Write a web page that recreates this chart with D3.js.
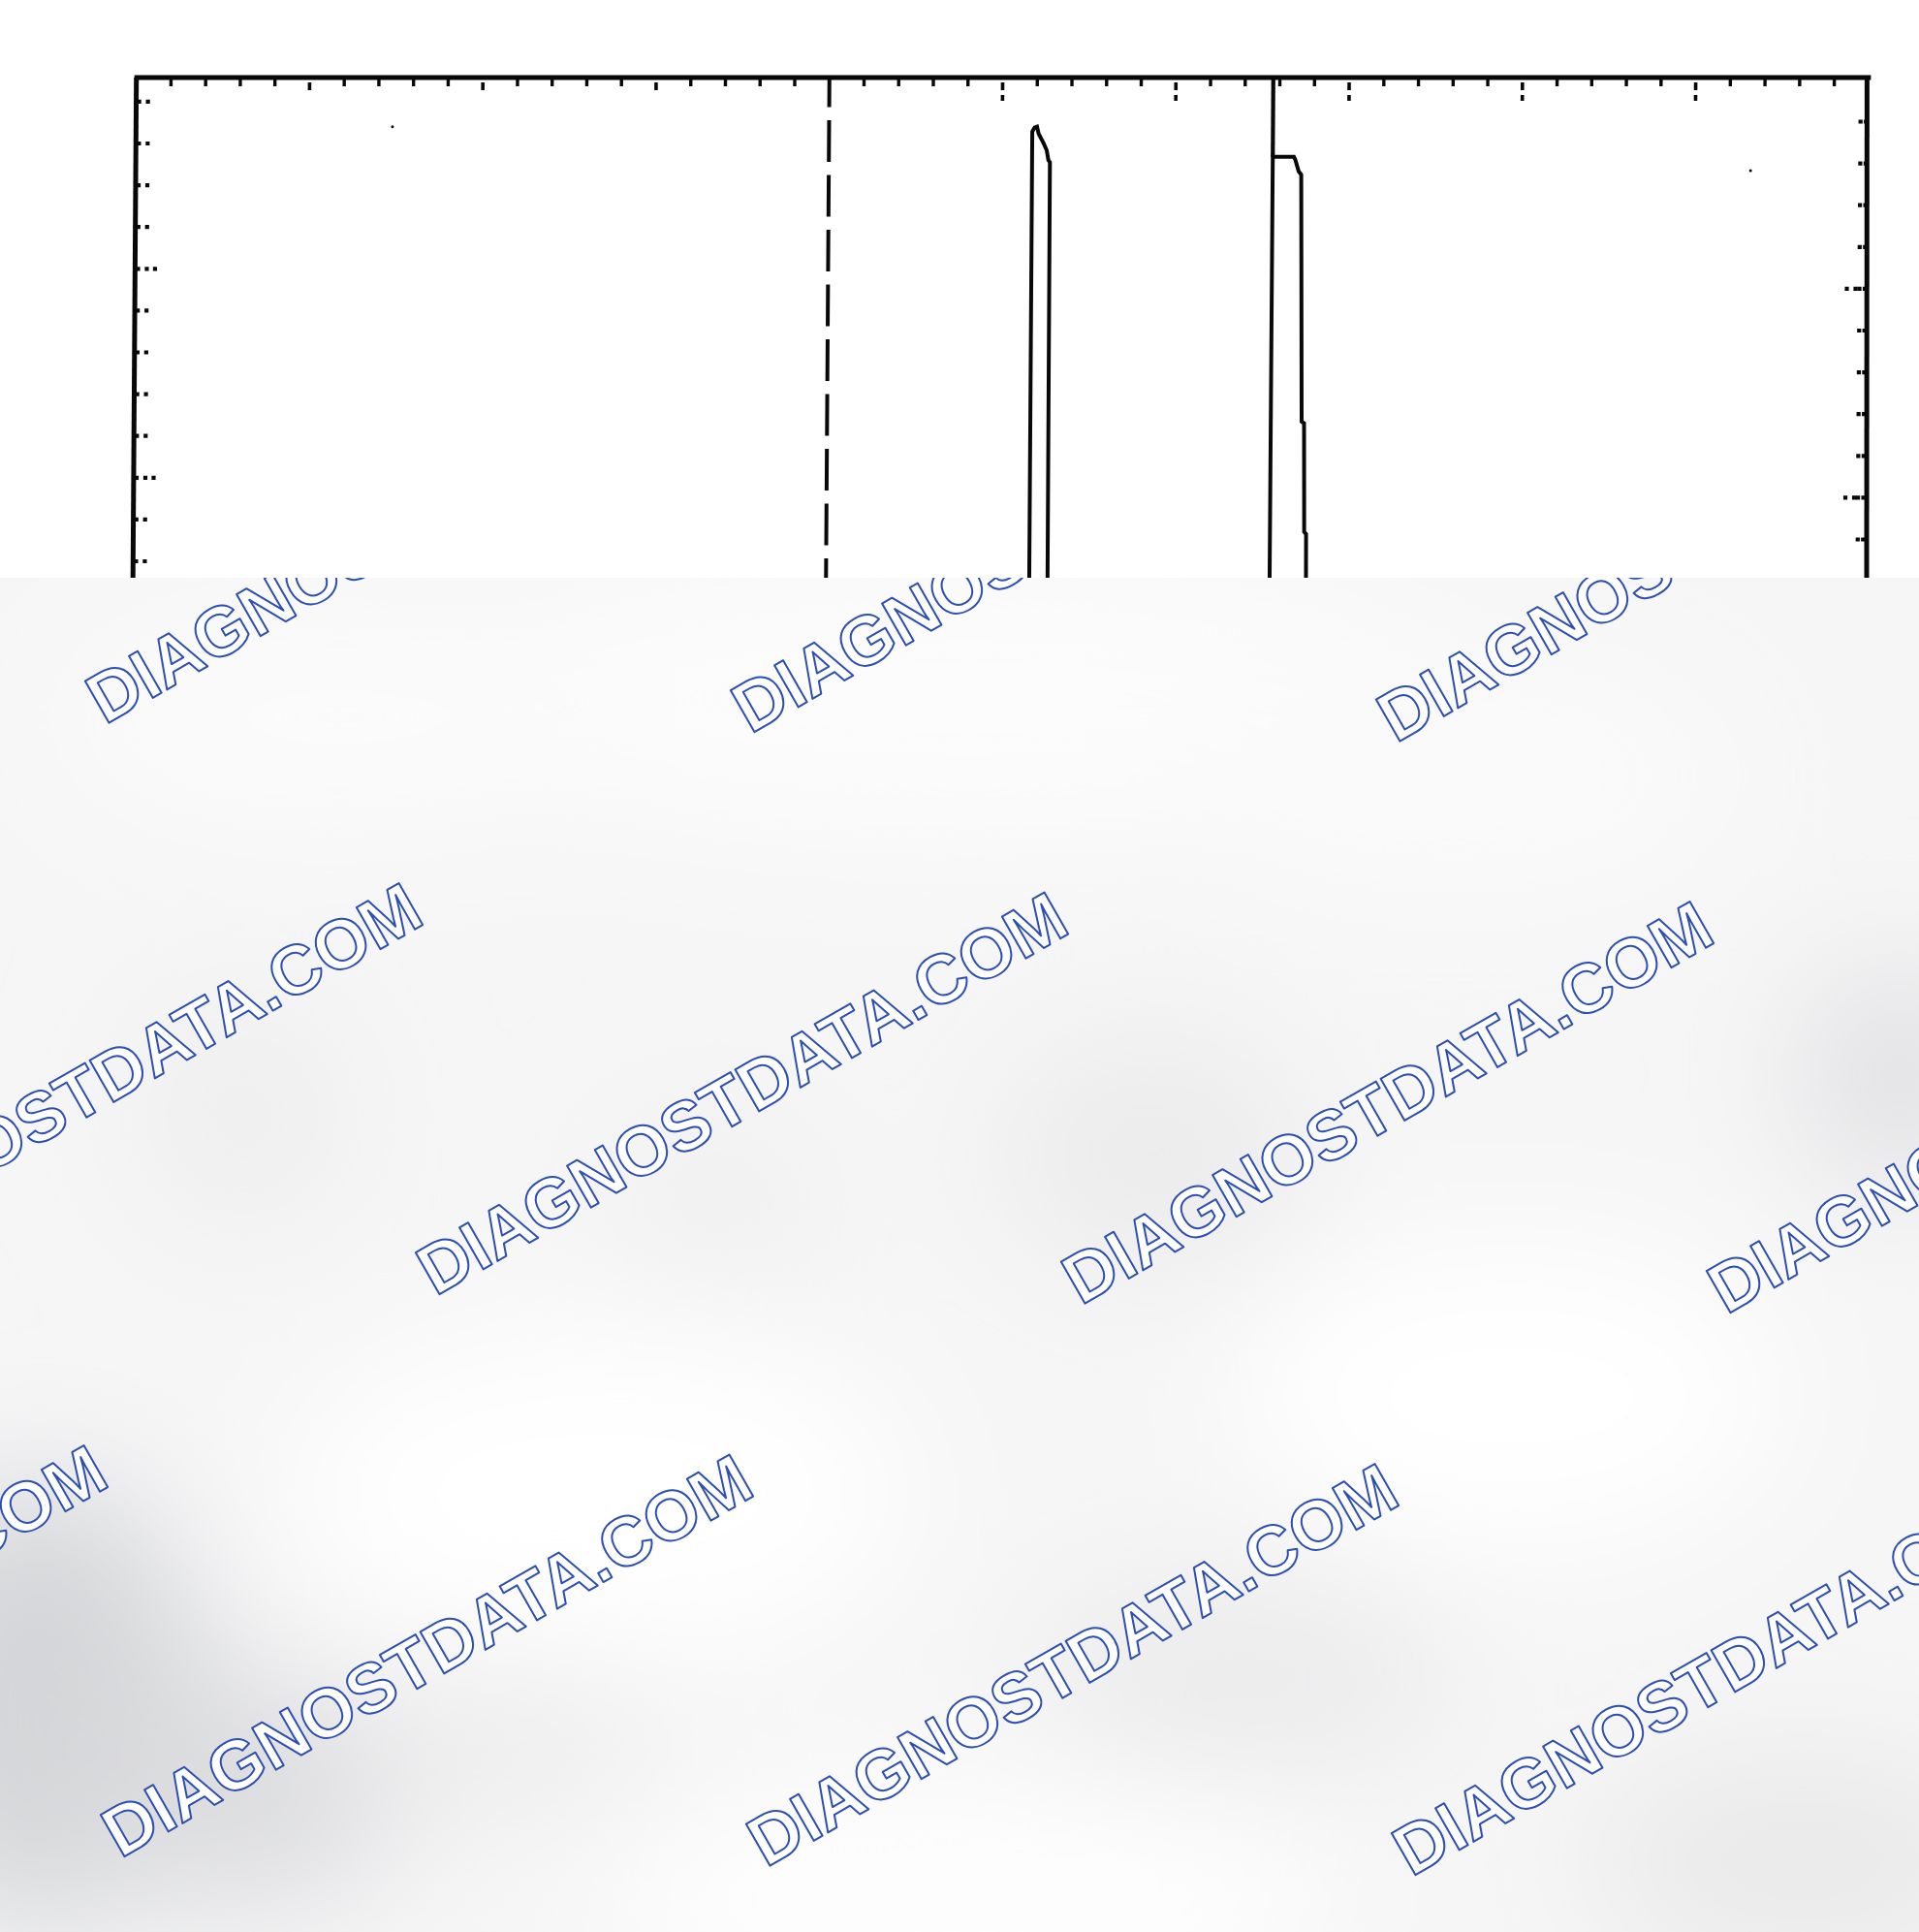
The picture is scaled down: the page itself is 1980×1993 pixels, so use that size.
<!DOCTYPE html>
<html><head><meta charset="utf-8">
<script src="https://cdn.jsdelivr.net/npm/d3@7"></script>
<style>html,body{margin:0;padding:0;background:#fff;}svg{display:block}</style>
</head><body>
<script>
// ---- data (x in horizontal divisions 0..10, y in vertical minor-tick units) ----
const frameTopK = -0.575;
const dashedMarkerX = [4.0];
const cursorX = [6.562];
const cursorTopK = 1.32;
const pulse1 = [[5.173,13],[5.173,0.72],[5.186,0.62],[5.200,0.60],[5.210,0.77],[5.239,1.00],[5.257,1.165],[5.267,1.40],[5.276,1.45],[5.279,13]];
const pulse2 = [[6.560,13],[6.562,1.32],[6.684,1.32],[6.693,1.40],[6.712,1.67],[6.727,1.75],[6.739,7.66],[6.753,7.70],[6.758,10.30],[6.769,10.35],[6.772,13]];
const topMinorTicks = d3.range(1, 50).filter(i => i % 5 !== 0).map(i => i / 5);
const topMajorTicks = [1,2,3,5,6,7,8,9];
const leftTicksK = [0,1,2,3,4,5,6,7,8,9,10,11];
const leftTripleK = [4,9];
const rightTicksK = [0.478,1.478,2.478,3.478,4.478,5.478,6.478,7.478,8.478,9.478,10.478];
const rightTripleK = [4.478,9.478];
const specks = [[1.48,0.6],[9.32,1.65]];
const watermarkText = "DIAGNOSTDATA.COM";
const wmCols = [-1,0,1,2];
const wmRows = [-1,0,1];

const W = 1980, H = 1993;
const x = d3.scaleLinear().domain([0,10]).range([140.7,1928.4]);
const y = d3.scaleLinear().domain([0,11]).range([104.8,578.9]);
const topY = y(frameTopK);

const svg = d3.select("body").append("svg").attr("width",W).attr("height",H);
svg.append("rect").attr("width",W).attr("height",H).attr("fill","#fff");

const g = svg.append("g").attr("transform",`translate(0,${topY}) skewX(-0.39) translate(0,${-topY})`);
const ink = "#080808";

// frame
g.append("line").attr("x1",x(0)-2).attr("x2",x(10)+2).attr("y1",topY).attr("y2",topY).attr("stroke",ink).attr("stroke-width",5);
g.append("line").attr("x1",x(0)).attr("x2",x(0)).attr("y1",topY).attr("y2",y(13)).attr("stroke",ink).attr("stroke-width",5);
g.append("line").attr("x1",x(10)-2).attr("x2",x(10)+1.5).attr("y1",topY).attr("y2",y(13)).attr("stroke",ink).attr("stroke-width",5);

// top ticks
g.selectAll("rect.tmin").data(topMinorTicks).join("rect").attr("class","tmin")
 .attr("x",d=>x(d)-1.7).attr("y",topY+2).attr("width",3.4).attr("height",7).attr("fill",ink);
g.selectAll("rect.tmaj1").data(topMajorTicks).join("rect").attr("class","tmaj1")
 .attr("x",d=>x(d)-1.8).attr("y",topY+5).attr("width",3.6).attr("height",8).attr("fill",ink);
g.selectAll("rect.tmaj2").data(topMajorTicks.filter(d=>d>=5)).join("rect").attr("class","tmaj2")
 .attr("x",d=>x(d)-1.8).attr("y",topY+18).attr("width",3.6).attr("height",6).attr("fill",ink);

// left border dots
const dot = (sel, cls, data, dx) => sel.selectAll("rect."+cls).data(data).join("rect").attr("class",cls)
  .attr("x",d=>x(0)+dx-2).attr("y",d=>y(d)-2).attr("width",4.2).attr("height",4.2).attr("fill",ink);
dot(g,"l1",leftTicksK,3);
dot(g,"l2",leftTicksK,12);
dot(g,"l3",leftTripleK,20.5);
const rdot = (sel, cls, data, dx) => sel.selectAll("rect."+cls).data(data).join("rect").attr("class",cls)
  .attr("x",d=>x(10)+dx-2).attr("y",d=>y(d)-2).attr("width",4.2).attr("height",4.2).attr("fill",ink);
rdot(g,"r1",rightTicksK,-3);
rdot(g,"r2",rightTicksK,-8.5);
rdot(g,"r3",rightTripleK,-12.5);
rdot(g,"r4",rightTripleK,-21.5);

// dashed marker
g.selectAll("line.dash").data(dashedMarkerX).join("line").attr("class","dash")
 .attr("x1",d=>x(d)).attr("x2",d=>x(d)).attr("y1",topY).attr("y2",y(13))
 .attr("stroke",ink).attr("stroke-width",4).attr("stroke-dasharray","43,13.5").attr("stroke-dashoffset",12.5);

// cursor line
g.selectAll("line.cur").data(cursorX).join("line").attr("class","cur")
 .attr("x1",d=>x(d)).attr("x2",d=>x(d)).attr("y1",topY).attr("y2",y(cursorTopK))
 .attr("stroke",ink).attr("stroke-width",4.2);

// traces
const line = d3.line().x(d=>x(d[0])).y(d=>y(d[1]));
[pulse1,pulse2].forEach(p=>{
  g.append("path").attr("d",line(p)).attr("fill","none").attr("stroke",ink).attr("stroke-width",4).attr("stroke-linejoin","miter");
});
g.selectAll("circle.sp").data(specks).join("circle").attr("class","sp")
 .attr("cx",d=>x(d[0])).attr("cy",d=>y(d[1])).attr("r",1.5).attr("fill",ink);

// ---- overlay ----
const ovTop = 596;
const defs = svg.append("defs");
defs.append("clipPath").attr("id","ovclip").append("rect").attr("x",0).attr("y",ovTop).attr("width",W).attr("height",H-ovTop);
const f = defs.append("filter").attr("id","blur").attr("x","-50%").attr("y","-50%").attr("width","200%").attr("height","200%");
f.append("feGaussianBlur").attr("stdDeviation",70);

const ov = svg.append("g").attr("clip-path","url(#ovclip)");
ov.append("rect").attr("x",0).attr("y",ovTop).attr("width",W).attr("height",H-ovTop).attr("fill","#f6f6f7");
const blobs = [
  [1000,720,560,150,"#fcfcfc"],[350,740,300,120,"#fbfbfb"],[620,1540,320,170,"#ffffff"],
  [1560,1440,280,160,"#ffffff"],[1000,1960,380,120,"#fefefe"],[1500,800,300,140,"#fafafa"],
  [250,1150,110,120,"#eeeeef"],[1190,1190,160,120,"#ebebec"],[740,1240,110,80,"#efefef"],
  [40,1760,170,230,"#d4d5d8"],[240,1850,170,120,"#dbdcde"],[1960,1110,100,110,"#dfdfe1"],
  [1860,1920,220,110,"#e9e9ea"],[1280,1730,220,100,"#ebebec"],[520,1790,160,70,"#ececed"]
];
const bg = ov.append("g").attr("filter","url(#blur)");
bg.selectAll("ellipse").data(blobs).join("ellipse")
 .attr("cx",d=>d[0]).attr("cy",d=>d[1]).attr("rx",d=>d[2]).attr("ry",d=>d[3]).attr("fill",d=>d[4]);

// watermark lattice
const origin = [765,1127], va = [666,9.5], vb = [-325,580];
const wm = [];
wmRows.forEach(r=>wmCols.forEach(c=>wm.push([origin[0]+c*va[0]+r*vb[0], origin[1]+c*va[1]+r*vb[1]])));
ov.selectAll("text.wm").data(wm).join("text").attr("class","wm")
 .attr("transform",d=>`translate(${d[0]},${d[1]}) rotate(-29.8)`)
 .attr("text-anchor","middle").attr("dy","0.358em")
 .attr("font-family","'Liberation Sans', Arial, sans-serif").attr("font-weight","bold").attr("font-size",72)
 .attr("fill","#ffffff").attr("stroke","#2d4fb3").attr("stroke-width",2).attr("stroke-linejoin","round")
 .text(watermarkText);
</script>
</body></html>
